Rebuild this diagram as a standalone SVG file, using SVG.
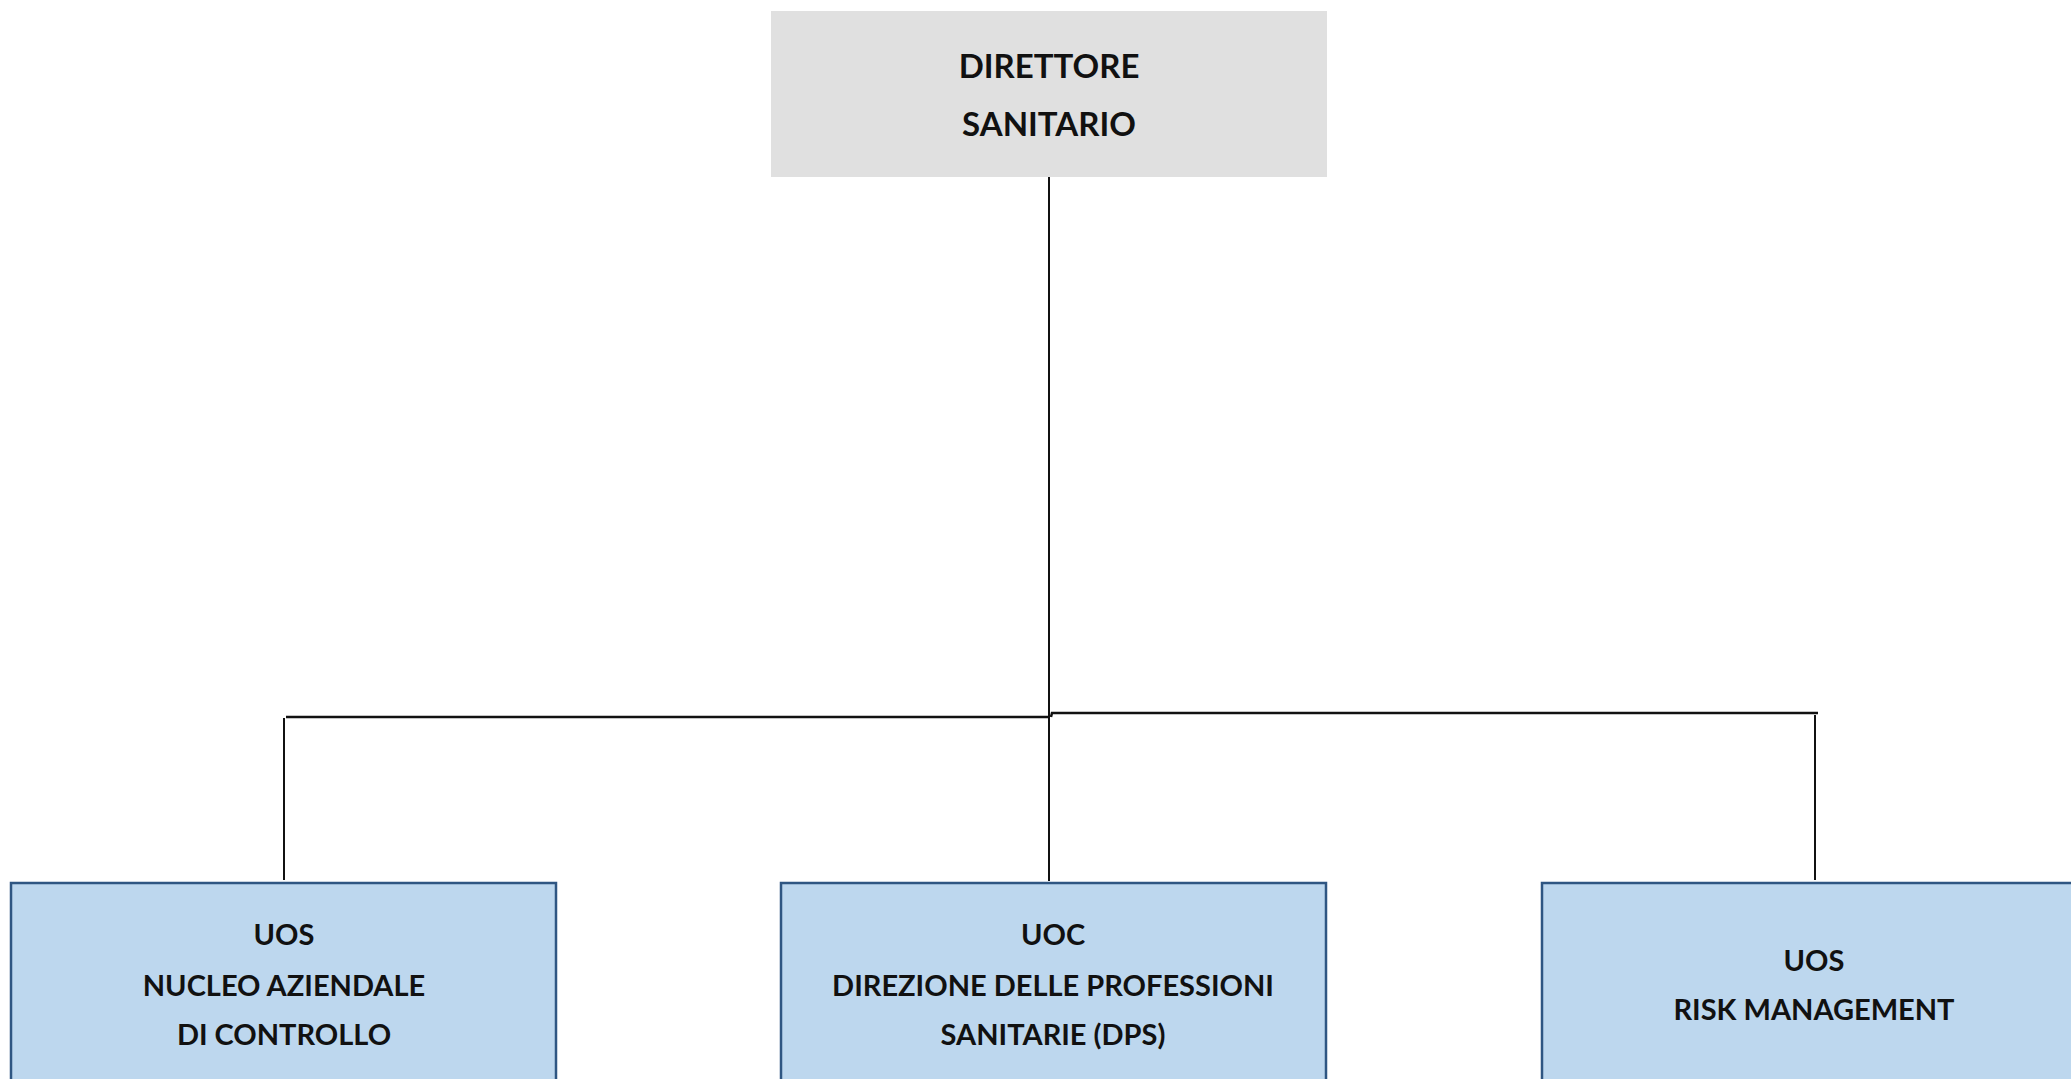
<svg xmlns="http://www.w3.org/2000/svg" width="2071" height="1079" viewBox="0 0 2071 1079">
<style>
.lbl{font-family:Lato,"Open Sans","Liberation Sans",sans-serif;font-weight:bold;font-size:29px;fill:#111;text-anchor:middle}
.big{font-size:33px}
.unit{fill:#bdd7ee;stroke:#2f5682;stroke-width:2.5}
.head{fill:#e0e0e0}
.conn{stroke:#111;fill:none}
</style>
<rect width="2071" height="1079" fill="#ffffff"/>
<g id="connectors">
<line class="conn" x1="1049" y1="177" x2="1049" y2="881" stroke-width="2"/>
<line class="conn" x1="286" y1="717" x2="1050" y2="717" stroke-width="2.5"/>
<polyline class="conn" points="1051,717 1052,713 1818,713" stroke-width="2.5"/>
<line class="conn" x1="284" y1="718" x2="284" y2="880" stroke-width="2"/>
<line class="conn" x1="1815" y1="715" x2="1815" y2="880" stroke-width="2"/>
</g>
<g id="direttore-sanitario">
<rect class="head" x="771" y="11" width="556" height="166"/>
<text class="lbl big" x="1049" y="78">DIRETTORE</text>
<text class="lbl big" x="1049" y="136">SANITARIO</text>
</g>
<g id="uos-nucleo">
<rect class="unit" x="11" y="883" width="545" height="210"/>
<text class="lbl" x="284" y="945">UOS</text>
<text class="lbl" x="284" y="996">NUCLEO AZIENDALE</text>
<text class="lbl" x="284" y="1045">DI CONTROLLO</text>
</g>
<g id="uoc-dps">
<rect class="unit" x="781" y="883" width="545" height="210"/>
<text class="lbl" x="1053" y="945">UOC</text>
<text class="lbl" x="1053" y="996">DIREZIONE DELLE PROFESSIONI</text>
<text class="lbl" x="1053" y="1045">SANITARIE (DPS)</text>
</g>
<g id="uos-risk">
<rect class="unit" x="1542" y="883" width="560" height="210"/>
<text class="lbl" x="1814" y="971">UOS</text>
<text class="lbl" x="1814" y="1020">RISK MANAGEMENT</text>
</g>
</svg>
